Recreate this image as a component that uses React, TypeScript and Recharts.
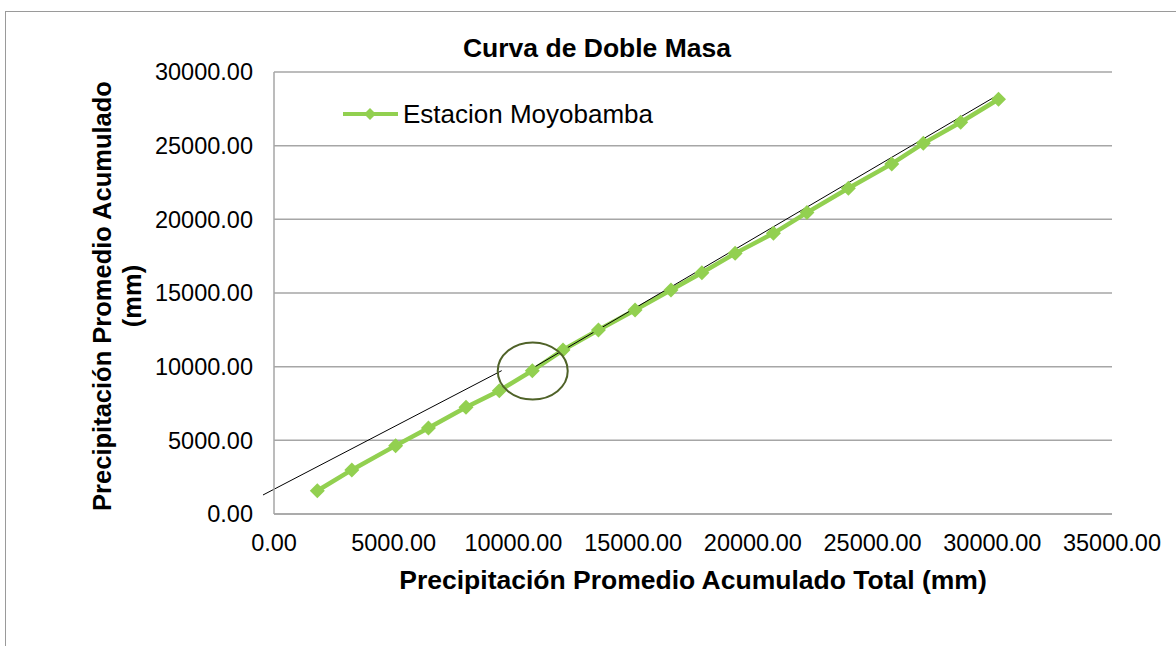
import React from "react";
import {
  LineChart,
  Line,
  XAxis,
  YAxis,
  CartesianGrid,
  ReferenceLine,
  ReferenceDot,
  Label,
} from "recharts";

// cumulative totals (mm)
const xTotal = [
  1810, 3250, 5080, 6450, 8020, 9410, 10790, 12070, 13550, 15080,
  16580, 17870, 19260, 20860, 22260, 23990, 25800, 27120, 28680, 30260,
];
const yMoyobamba = [
  1580, 2990, 4640, 5840, 7240, 8370, 9730, 11130, 12490, 13850,
  15200, 16380, 17690, 19050, 20460, 22110, 23760, 25160, 26590, 28150,
];

const xTicks = [0, 5000, 10000, 15000, 20000, 25000, 30000, 35000];
const yTicks = [0, 5000, 10000, 15000, 20000, 25000, 30000];

// hand-drawn trend lines and the break marker (data units)
const trendBefore = [
  { x: -460, y: 1290 },
  { x: 9510, y: 9730 },
];
const trendAfter = [
  { x: 10790, y: 9890 },
  { x: 30300, y: 28500 },
];
const breakPoint = { x: 10806, y: 9706 };

const data = xTotal.map((x, i) => ({ x, y: yMoyobamba[i] }));

const FONT = "'Liberation Sans', Arial, sans-serif";
const GREEN = "#92d050";
const GRID = "#a6a6a6";

function Diamond({ cx, cy, size = 7.5, fill = GREEN }: any) {
  if (cx == null || cy == null) return null;
  return (
    <polygon
      points={`${cx},${cy - size} ${cx + size},${cy} ${cx},${cy + size} ${cx - size},${cy}`}
      fill={fill}
    />
  );
}

function Ellipse({ cx, cy }: any) {
  return <ellipse cx={cx} cy={cy} rx={35} ry={28.5} fill="none" stroke="#4f6228" strokeWidth={2} />;
}

// legend sits inside the plot area, drawn as a plain overlay
function LegendBox() {
  return (
    <div
      style={{
        position: "absolute",
        left: 343,
        top: 99,
        display: "flex",
        alignItems: "center",
        fontFamily: FONT,
        fontSize: 26,
        lineHeight: "30px",
      }}
    >
      <svg width={58} height={20}>
        <line x1={0} y1={10} x2={55} y2={10} stroke={GREEN} strokeWidth={4} />
        <Diamond cx={27} cy={10} size={6} />
      </svg>
      <span style={{ color: "#000", marginLeft: 2 }}>Estacion Moyobamba</span>
    </div>
  );
}

function YTitle() {
  return (
    <g fontFamily={FONT} fontSize={25.5} fontWeight="bold" fill="#000">
      <text x={102} y={296} transform="rotate(-90, 102, 296)" textAnchor="middle" dominantBaseline="central">
        Precipitación Promedio Acumulado
      </text>
      <text x={132} y={296} transform="rotate(-90, 132, 296)" textAnchor="middle" dominantBaseline="central">
        (mm)
      </text>
    </g>
  );
}

function XTitle() {
  return (
    <text x={693} y={580} textAnchor="middle" dominantBaseline="central" fontFamily={FONT} fontSize={26.5} fontWeight="bold" fill="#000">
      Precipitación Promedio Acumulado Total (mm)
    </text>
  );
}

const fmt = (v: number) => v.toFixed(2);

export default function App() {
  return (
    <div style={{ position: "absolute", left: 0, top: 0, width: 1176, height: 646, overflow: "hidden", background: "#fff" }}>
      <div
        style={{
          position: "absolute",
          left: 5,
          top: 11,
          width: 1300,
          height: 800,
          borderTop: "1px solid #9a9a9a",
          borderLeft: "1px solid #9a9a9a",
        }}
      />
      <div
        style={{
          position: "absolute",
          left: 397,
          top: 33,
          width: 400,
          height: 30,
          lineHeight: "30px",
          textAlign: "center",
          fontFamily: FONT,
          fontSize: 26.5,
          fontWeight: "bold",
          color: "#000",
        }}
      >
        Curva de Doble Masa
      </div>
      <div style={{ position: "absolute", left: 0, top: 0 }}>
        <LineChart width={1176} height={646} data={data} margin={{ top: 72, right: 64, bottom: 0, left: 0 }}>
          <CartesianGrid vertical={false} stroke={GRID} strokeWidth={1.5} />
          <XAxis
            type="number"
            dataKey="x"
            domain={[0, 35000]}
            ticks={xTicks}
            interval={0}
            tickFormatter={fmt}
            height={132}
            axisLine={{ stroke: GRID, strokeWidth: 1.5 }}
            tickLine={false}
            tickSize={0}
            tickMargin={20}
            tick={{ fill: "#000", fontSize: 23.5, fontFamily: FONT }}
          >
            <Label content={<XTitle />} />
          </XAxis>
          <YAxis
            type="number"
            dataKey="y"
            domain={[0, 30000]}
            ticks={yTicks}
            interval={0}
            tickFormatter={fmt}
            width={274}
            axisLine={{ stroke: GRID, strokeWidth: 1.5 }}
            tickLine={false}
            tickSize={0}
            tickMargin={21}
            tick={{ fill: "#000", fontSize: 23.5, fontFamily: FONT }}
          >
            <Label content={<YTitle />} />
          </YAxis>
          <Line
            type="linear"
            dataKey="y"
            stroke={GREEN}
            strokeWidth={4.5}
            dot={(p: any) => <Diamond key={p.index} cx={p.cx} cy={p.cy} />}
            activeDot={false}
            isAnimationActive={false}
          />
          <ReferenceLine segment={trendBefore} stroke="#000" strokeWidth={1} ifOverflow="visible" />
          <ReferenceLine segment={trendAfter} stroke="#000" strokeWidth={1} ifOverflow="visible" />
          <ReferenceDot x={breakPoint.x} y={breakPoint.y} shape={<Ellipse />} ifOverflow="visible" />
        </LineChart>
      </div>
      <LegendBox />
    </div>
  );
}
